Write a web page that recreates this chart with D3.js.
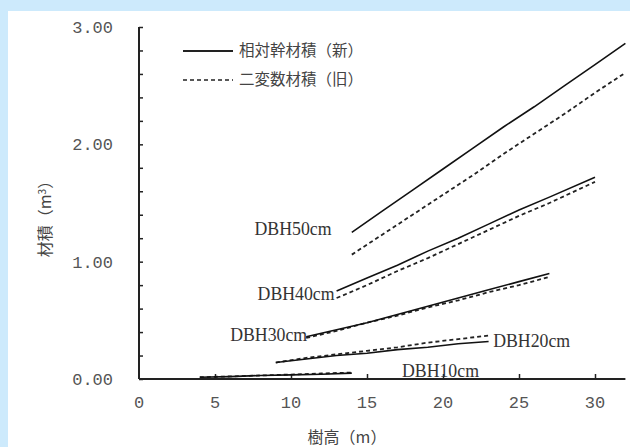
<!DOCTYPE html>
<html><head><meta charset="utf-8">
<script src="https://cdn.jsdelivr.net/npm/d3@7"></script>
<style>
html,body{margin:0;padding:0;background:#cdeafc;}
svg{display:block;}
</style></head>
<body>
<svg id="chart" width="630" height="447"></svg>
<script>
// ---- data ----
const seriesNames = ["相対幹材積（新）", "二変数材積（旧）"];
const dbhClasses = ["DBH10cm", "DBH20cm", "DBH30cm", "DBH40cm", "DBH50cm"];
// heights (m) and volumes (m3) per class
const h10 = [4, 6, 8, 10, 12, 14];
const newV10 = [0.015, 0.02, 0.03, 0.035, 0.04, 0.05];
const oldV10 = [0.015, 0.022, 0.03, 0.038, 0.047, 0.055];
const h20 = [9, 11, 13, 15, 17, 19, 21, 23];
const newV20 = [0.14, 0.17, 0.20, 0.22, 0.25, 0.27, 0.30, 0.32];
const oldV20 = [0.14, 0.18, 0.21, 0.24, 0.27, 0.31, 0.34, 0.37];
const h30 = [11, 13, 15, 17, 19, 21, 23, 25, 27];
const newV30 = [0.36, 0.42, 0.48, 0.55, 0.62, 0.69, 0.76, 0.83, 0.90];
const oldV30 = [0.35, 0.41, 0.48, 0.54, 0.61, 0.67, 0.74, 0.80, 0.87];
const h40 = [13, 15, 17, 19, 21, 23, 25, 27, 30];
const newV40 = [0.75, 0.86, 0.97, 1.09, 1.20, 1.32, 1.44, 1.55, 1.72];
const oldV40 = [0.69, 0.80, 0.92, 1.03, 1.15, 1.27, 1.39, 1.50, 1.68];
const h50 = [14, 16, 18, 20, 22, 24, 26, 28, 30, 32];
const newV50 = [1.25, 1.43, 1.61, 1.79, 1.97, 2.15, 2.32, 2.50, 2.68, 2.86];
const oldV50 = [1.06, 1.23, 1.40, 1.57, 1.74, 1.92, 2.09, 2.26, 2.44, 2.61];
const xTicks = [0, 5, 10, 15, 20, 25, 30];
const yTickLabels = [0, 1, 2, 3];
const yMinorTicks = d3.range(0, 3.0001, 0.2);
// label anchors in data units (left edge, vertical centre)
const labelH = [17.3, 23.3, 6.0, 7.8, 7.6];
const labelV = [0.075, 0.325, 0.375, 0.73, 1.28];

const groups = [
  {h: h10, n: newV10, o: oldV10},
  {h: h20, n: newV20, o: oldV20},
  {h: h30, n: newV30, o: oldV30},
  {h: h40, n: newV40, o: oldV40},
  {h: h50, n: newV50, o: oldV50}
];

// ---- layout ----
const svg = d3.select("#chart");
svg.append("rect").attr("x", 8).attr("y", 11).attr("width", 622).attr("height", 436).attr("fill", "#ffffff");

const x = d3.scaleLinear().domain([0, 32]).range([139, 625.4]);
const y = d3.scaleLinear().domain([0, 3]).range([379, 27]);

const axisColor = "#222";
const tickFont = "'Liberation Mono', monospace";

// y axis
const yAxis = d3.axisRight(y).tickValues(yMinorTicks).tickSize(4).tickFormat("");
const gy = svg.append("g").attr("transform", `translate(${x(0)},0)`).call(yAxis);
gy.select(".domain").attr("stroke", axisColor).attr("stroke-width", 2).attr("d", `M0,${y(3)}V${y(0)}`);
gy.selectAll(".tick line").attr("stroke", axisColor).attr("stroke-width", 1.5);

svg.append("g").selectAll("text").data(yTickLabels).join("text")
  .attr("x", 113).attr("y", d => y(d)).attr("dy", "0.35em")
  .attr("text-anchor", "end").attr("font-family", tickFont).attr("font-size", 17)
  .attr("fill", "#555").text(d => d3.format(".2f")(d));

// x axis
const xAxis = d3.axisTop(x).tickValues(xTicks.filter(d => d > 0)).tickSize(5).tickFormat("");
const gx = svg.append("g").attr("transform", `translate(0,${y(0)})`).call(xAxis);
gx.select(".domain").attr("stroke", axisColor).attr("stroke-width", 2).attr("d", `M${x(0)},0H${x(32)}`);
gx.selectAll(".tick line").attr("stroke", axisColor).attr("stroke-width", 1.5);

svg.append("g").selectAll("text").data(xTicks).join("text")
  .attr("x", d => x(d)).attr("y", 402).attr("dy", "0.35em")
  .attr("text-anchor", "middle").attr("font-family", tickFont).attr("font-size", 17)
  .attr("fill", "#555").text(d => d);

// axis titles
svg.append("text").attr("x", 347).attr("y", 437).attr("dy", "0.35em")
  .attr("text-anchor", "middle").attr("font-family", "'Noto Sans CJK JP', sans-serif")
  .attr("font-size", 16).attr("fill", "#444").text("樹高（m）");
svg.append("text").attr("transform", "translate(45,215) rotate(-90)").attr("dy", "0.35em")
  .attr("text-anchor", "middle").attr("font-family", "'Noto Sans CJK JP', sans-serif")
  .attr("font-size", 16).attr("fill", "#444")
  .html("材積（m<tspan font-size='10' dy='-5'>3</tspan><tspan dy='5'>）</tspan>");

// lines
const line = d3.line().x(d => x(d[0])).y(d => y(d[1]));
const lineG = svg.append("g").attr("fill", "none");
groups.forEach(g => {
  lineG.append("path").datum(g.h.map((h, i) => [h, g.o[i]]))
    .attr("d", line).attr("stroke", "#222").attr("stroke-width", 1.8).attr("stroke-dasharray", "4,3");
  lineG.append("path").datum(g.h.map((h, i) => [h, g.n[i]]))
    .attr("d", line).attr("stroke", "#111").attr("stroke-width", 1.6);
});

// DBH labels
svg.append("g").selectAll("text").data(dbhClasses).join("text")
  .attr("x", (d, i) => x(labelH[i])).attr("y", (d, i) => y(labelV[i])).attr("dy", "0.35em")
  .attr("font-family", "'Liberation Serif', serif").attr("font-size", 18)
  .attr("textLength", 77).attr("lengthAdjust", "spacingAndGlyphs")
  .attr("fill", "#333").text(d => d);

// legend
const leg = svg.append("g");
seriesNames.forEach((name, i) => {
  const ly = 51 + i * 29;
  leg.append("line").attr("x1", 183).attr("x2", 233).attr("y1", ly).attr("y2", ly)
    .attr("stroke", "#222").attr("stroke-width", i === 0 ? 1.8 : 1.6)
    .attr("stroke-dasharray", i === 0 ? null : "4,3");
  leg.append("text").attr("x", 239).attr("y", ly).attr("dy", "0.35em")
    .attr("font-family", "'Noto Sans CJK JP', sans-serif").attr("font-size", 15.5)
    .attr("fill", "#444").text(name);
});
</script>
</body></html>
